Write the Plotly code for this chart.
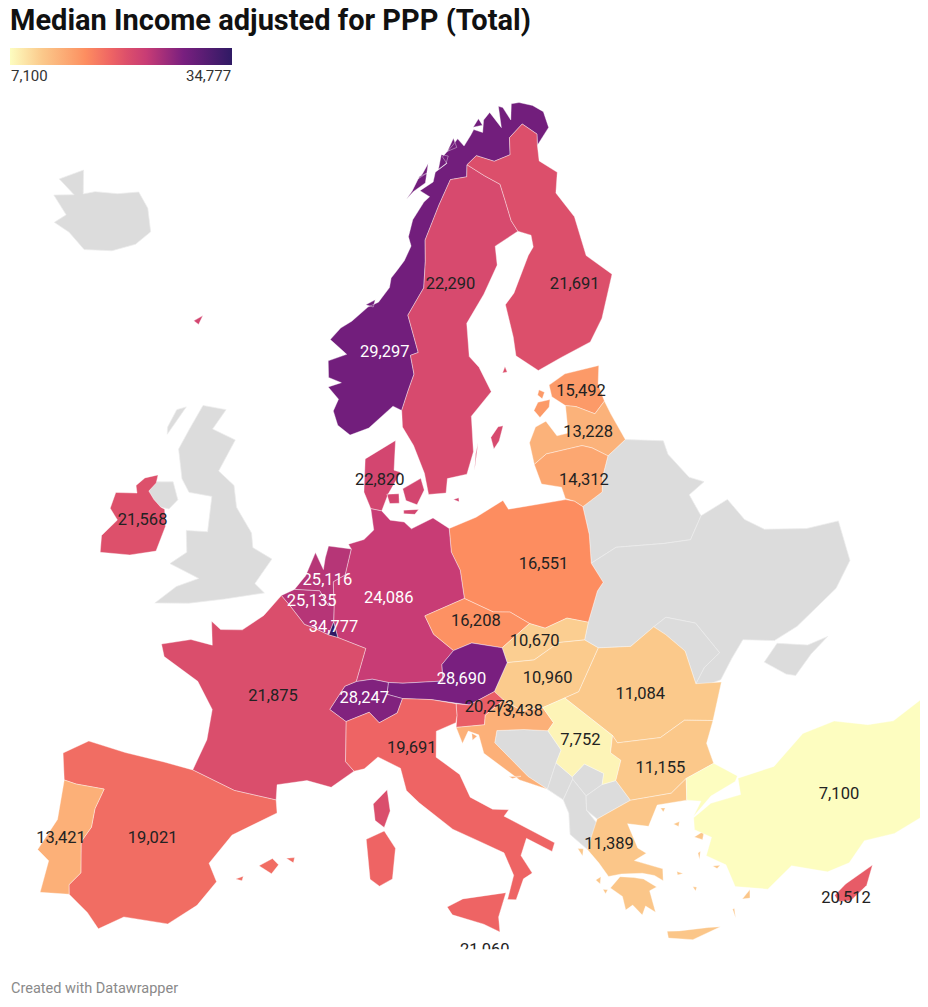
import plotly.graph_objects as go
from plotly.colors import sample_colorscale

# median income, adjusted for PPP
countries = ["NOR", "SWE", "FIN", "EST", "LVA", "LTU", "DNK", "FRO", "IRL", "POL", "DEU", "NLD", "BEL", "LUX",
             "CZE", "SVK", "HUN", "AUT", "CHE", "SVN", "HRV", "ROU", "SRB", "BGR", "GRC", "ITA", "FRA", "ESP",
             "PRT", "TUR", "CYP", "MLT"]
income = [29297, 22290, 21691, 15492, 13228, 14312, 22820, 22820, 21568, 16551, 24086, 25116, 25135, 34777,
          16208, 10670, 10960, 28690, 28247, 20273, 13438, 11084, 7752, 11155, 11389, 19691, 21875, 19021,
          13421, 7100, 20512, 21060]
no_data = ["ISL", "GBR", "BLR", "UKR", "MDA", "BIH", "MNE", "XKX", "ALB", "MKD"]

# label anchors, lon/lat
label_values = [29297, 22290, 21691, 15492, 13228, 14312, 22820, 21568, 16551, 24086, 25116, 25135, 34777, 16208,
                10670, 10960, 28690, 28247, 20273, 13438, 11084, 7752, 11155, 11389, 19691, 21875, 19021, 13421,
                7100, 20512, 21060]
label_lon = [9.95, 16.5, 28, 25.9, 25.6, 24.4, 9.3, -7.65, 20.4, 9.75, 5.6, 4.6, 6.1, 15.4, 19, 19.45, 14.15, 8.1, 15.7,
             17.4, 24.8, 20.8, 25, 21.4, 10.9, 2.5, -3.5, -8.4, 34.1, 32.8, 14.25]
label_lat = [61.45, 64.1, 63, 58.6, 56.85, 54.93, 56.05, 53.3, 51.85, 51.1, 51.85, 50.9, 49.87, 49.85, 48.7, 47.05, 47.48,
             46.88, 46.2, 45.87, 45.6, 44.25, 42.35, 39.65, 44.7, 46.8, 40.2, 39.45, 39, 34.75, 35.9]
light_labels = [29297, 25116, 25135, 34777, 24086, 28690, 28247]

# rough country outlines, lon/lat rings
outlines = {
    "ISL": [[(-22.7, 63.9), (-21, 63.8), (-19, 63.4), (-16.5, 63.8), (-14.6, 64.4), (-13.6, 65.1), (-14.7, 66),
             (-16.2, 66.5), (-18.2, 66.1), (-20.4, 65.8), (-21.4, 65.5), (-22.5, 66.4), (-24.3, 65.6), (-22.2, 65.3),
             (-24, 64.9), (-22, 64.4)]],
    "IRL": [[(-6.3, 54), (-6, 53.3), (-6.3, 52.2), (-8, 51.8), (-10, 51.6), (-10.2, 52.3), (-9.4, 53.1), (-10.1, 53.5),
             (-10, 54.2), (-8.5, 54.4), (-8.7, 54.7), (-8.2, 55.1), (-7.3, 55.35), (-7.3, 55), (-7.7, 54.6),
             (-7.2, 54.3), (-6.6, 54.05)]],
    "GBR": [[(-5.7, 50.05), (-3.5, 50.3), (-1.2, 50.7), (1.4, 51.15), (0.7, 51.5), (1.7, 52.6), (0.3, 53), (0.1, 53.6),
             (-1.2, 54.6), (-1.6, 55.5), (-2.9, 56), (-2, 57.4), (-3.9, 57.7), (-3.1, 58.6), (-5, 58.6), (-5.7, 57.5),
             (-6.2, 56.6), (-5.5, 55.4), (-4.8, 54.9), (-3.1, 54.9), (-3, 53.4), (-4.5, 53.3), (-4.2, 52.4),
             (-5.2, 51.8), (-3.1, 51.4), (-4.5, 50.9)],
            [(-7.3, 55.05), (-6.1, 55.2), (-5.5, 54.5), (-6, 54.05), (-6.6, 54.05), (-7.2, 54.3), (-7.7, 54.6)],
            [(-7.3, 57.1), (-6.3, 58.4), (-7, 58.2), (-7.4, 57.4)]],
    "NOR": [[(7, 58), (8.5, 58.3), (10.5, 59.2), (11.2, 59), (11.8, 59.8), (12.4, 60.5), (12.2, 61.3), (12.9, 61.4),
             (12.2, 63), (13.9, 64.1), (14.3, 65.2), (14.5, 66.1), (16.4, 67.5), (18.1, 68.5), (20, 68.5), (20.3, 69),
             (21.6, 69.3), (23.5, 68.9), (25.5, 69), (26, 69.7), (28, 70.1), (29.3, 69.5), (28.9, 69.05), (30.9, 69.6),
             (31, 70.3), (30, 70.7), (28.5, 71), (27.5, 71.05), (26.8, 70.4), (26.3, 71), (25.8, 71.1), (25.4, 70.2),
             (24.5, 70.95), (23.5, 70.7), (23, 70.2), (22, 70.4), (21.5, 70.2), (20.4, 69.8), (19.8, 70.15), (19, 69.9),
             (17.6, 69.5), (18, 69.2), (16.5, 68.9), (16.1, 68.5), (14.5, 68.2), (15.5, 67.9), (14.8, 67.7), (13.4, 67),
             (12.8, 66.3), (13, 65.9), (12.2, 65.3), (11.4, 64.9), (10.8, 64.6), (10.6, 64.2), (9.5, 63.6), (8.5, 63.4),
             (7, 62.8), (6, 62.5), (5.1, 62), (6.6, 61.4), (5, 61.1), (5.1, 60.4), (6.2, 60.2), (5.1, 60), (6, 59.5),
             (5.6, 59), (6, 58.4)],
            [(12.9, 67.9), (13.8, 68.2), (15.2, 68.5), (15.5, 68.9), (14.6, 68.8), (13.6, 68.2)],
            [(14.4, 68.7), (15.5, 68.9), (15.8, 69.3), (15, 68.9)],
            [(16.9, 69), (17.5, 69.6), (18.3, 69.5), (17.9, 69.2)],
            [(18.3, 69.7), (19.3, 70.2), (19.5, 69.8)],
            [(22, 70.5), (22.9, 70.8), (23.2, 70.5)],
            [(8.3, 63.5), (9.2, 63.7), (9, 63.4)]],
    "SWE": [[(11.2, 59), (11.2, 58.3), (12, 57.5), (12.7, 56.3), (12.9, 55.4), (14.2, 55.4), (14.4, 56), (15.9, 56.1),
             (16.6, 57), (16.8, 58.5), (18.7, 59.4), (18, 60.5), (17.3, 61), (17.5, 62.4), (19.5, 63.5), (21.3, 64.6),
             (21.5, 65.4), (24.1, 65.8), (23.7, 66.3), (23.6, 67.2), (23.5, 67.9), (22, 68.4), (20.3, 69), (20, 68.5),
             (18.1, 68.5), (16.4, 67.5), (14.5, 66.1), (14.3, 65.2), (13.9, 64.1), (12.2, 63), (12.9, 61.4),
             (12.2, 61.3), (12.4, 60.5), (11.8, 59.8)],
            [(18.2, 57), (18.1, 57.5), (18.8, 57.9), (19.2, 57.9), (18.7, 57.3)],
            [(16.5, 56.2), (17.05, 57.35), (16.75, 56.9)]],
    "FIN": [[(24.1, 65.8), (25.3, 65.5), (25.2, 65), (24.5, 64.7), (22.3, 63.3), (21.3, 62.9), (21.4, 61.5), (21.3, 60.7),
             (22.9, 59.9), (25, 60.2), (27.8, 60.5), (29.4, 61.3), (31.6, 62.9), (29.9, 64), (30.1, 65.7), (29.1, 66.9),
             (30, 67.7), (28.5, 68.4), (28.9, 69.05), (29.3, 69.5), (28, 70.1), (26, 69.7), (25.5, 69), (23.5, 68.9),
             (21.6, 69.3), (20.3, 69), (22, 68.4), (23.5, 67.9), (23.6, 67.2), (23.7, 66.3)],
            [(19.9, 60.1), (20.3, 60.1), (20.2, 60.35)]],
    "EST": [[(23.5, 59.2), (25, 59.5), (27.9, 59.45), (27.4, 58.7), (27.5, 57.95), (26.5, 57.55), (25.2, 58.05),
             (24.4, 58.2), (23.5, 58.7)],
            [(21.85, 58.3), (22.3, 58.6), (23.3, 58.6), (23.1, 58.3), (22.2, 57.95)],
            [(22.4, 58.9), (22.6, 59.1), (23, 58.95), (22.7, 58.7)]],
    "LVA": [[(21.05, 56.07), (21, 57), (21.7, 57.6), (22.6, 57.75), (23.2, 57.05), (24.1, 57.05), (24.4, 58.2),
             (25.2, 58.05), (26.5, 57.55), (27.5, 57.95), (27.7, 57.35), (28.2, 56.15), (26.6, 55.7), (25.6, 56.2),
             (24.9, 56.4), (22.1, 56.4)]],
    "LTU": [[(21.05, 56.07), (22.1, 56.4), (24.9, 56.4), (25.6, 56.2), (26.6, 55.7), (25.8, 54.9), (25.5, 54.3),
             (23.9, 53.9), (23.4, 54.2), (22.8, 54.4), (22.7, 54.9), (21.3, 55.2)]],
    "BLR": [[(28.2, 56.15), (30.9, 55.6), (30.9, 55), (31.8, 53.8), (32.7, 53.4), (31.4, 53.1), (31.7, 52.1), (30.5, 51.3),
             (28.7, 51.5), (25.5, 51.9), (23.6, 51.5), (23.9, 52.7), (23.9, 53.9), (25.5, 54.3), (25.8, 54.9),
             (26.6, 55.7)]],
    "UKR": [[(23.6, 51.5), (25.5, 51.9), (28.7, 51.5), (30.5, 51.3), (31.7, 52.1), (33.8, 52.35), (34.4, 51.3),
             (35.4, 50.6), (38, 49.9), (40.1, 49.6), (39.7, 47.9), (38.2, 47.1), (35.1, 46.3), (33.5, 46.1), (31.7, 46.6),
             (30.7, 46), (29.7, 45.3), (28.7, 45.25), (28.2, 45.45), (28.95, 46), (30.1, 46.4), (29.2, 47.9), (27.5, 48.5),
             (26.6, 48.25), (24.9, 47.7), (22.9, 47.95), (22.15, 48.4), (22.6, 49.1), (23.6, 50.3), (24.1, 50.6)],
            [(32.5, 45.4), (33.6, 45.95), (35.3, 45.4), (36.6, 45.4), (35.3, 45), (34, 44.4), (33.5, 44.6)]],
    "MDA": [[(28.2, 45.45), (28.1, 46.9), (27.2, 47.8), (26.6, 48.25), (27.5, 48.5), (29.2, 47.9), (30.1, 46.4), (28.95, 46)]],
    "POL": [[(14.2, 53.9), (16.2, 54.25), (18.3, 54.8), (18.6, 54.4), (19.7, 54.4), (22.8, 54.35), (23.4, 54.2), (23.9, 53.9),
             (23.9, 52.7), (23.6, 51.5), (24.1, 50.6), (23.6, 50.3), (22.6, 49.1), (21.3, 49.45), (19.8, 49.2), (18.85, 49.5),
             (17.7, 50.1), (16.6, 50.2), (14.8, 50.9), (14.7, 52.1), (14.2, 52.9)]],
    "DEU": [[(8.6, 54.9), (9.4, 54.8), (10, 54.4), (11, 54.3), (11.5, 54), (13.1, 54.4), (14.2, 53.9), (14.2, 52.9), (14.7, 52.1),
             (14.8, 50.9), (12.1, 50.3), (12.6, 49.5), (13.8, 48.75), (13, 48.2), (13, 47.5), (10.5, 47.5), (9.6, 47.55),
             (8.6, 47.7), (7.6, 47.6), (8.2, 49), (6.4, 49.45), (6.1, 50.1), (6.1, 50.8), (6, 51.8), (6.8, 52.1), (7.2, 53.2),
             (7, 53.4), (8.1, 53.6), (8.8, 54)]],
    "DNK": [[(8.6, 54.9), (8.1, 55.6), (8.2, 57), (10.6, 57.75), (10.4, 56.5), (10.9, 56.4), (9.9, 55.5), (9.4, 54.8)],
            [(9.8, 55.5), (10.7, 55.5), (10.7, 55.1), (10, 55.1)],
            [(11, 55.7), (12.4, 56.1), (12.6, 55.6), (12, 55), (11.2, 55.2)],
            [(11, 54.8), (12.1, 54.8), (11.8, 54.6), (11, 54.65)],
            [(14.7, 55.1), (15.1, 55.15), (15.1, 54.98)]],
    "FRO": [[(-7.3, 62), (-6.6, 62.3), (-6.8, 61.9)]],
    "NLD": [[(3.4, 51.4), (4.1, 52), (4.7, 53), (5.3, 52.3), (5.4, 52.8), (5.6, 53.3), (7.2, 53.2), (6.8, 52.1), (6, 51.8),
             (6.1, 50.8), (5.7, 50.8), (5.1, 51.4), (4.3, 51.4)]],
    "BEL": [[(2.55, 51.1), (3.4, 51.4), (4.3, 51.4), (5.1, 51.4), (5.7, 50.8), (6.1, 50.8), (6.1, 50.1), (5.8, 49.55),
             (4.9, 49.8), (4.2, 49.95), (3.1, 50.75)]],
    "LUX": [[(5.8, 49.55), (6.1, 50.1), (6.4, 49.45)]],
    "FRA": [[(2.55, 51.1), (3.1, 50.75), (4.2, 49.95), (4.9, 49.8), (5.8, 49.55), (6.4, 49.45), (8.2, 49), (7.6, 47.6),
             (6.9, 47.4), (6, 46.4), (7, 45.9), (7, 44.2), (7.5, 43.8), (6.2, 43.1), (4.8, 43.35), (3.1, 43.1), (3.1, 42.45),
             (0.7, 42.7), (-1.8, 43.35), (-1.2, 44.7), (-1.1, 46), (-2.2, 47.1), (-4.5, 47.9), (-4.8, 48.4), (-3, 48.8),
             (-1.6, 48.7), (-1.85, 49.7), (-1.2, 49.4), (0.2, 49.5), (1.5, 50.2)],
            [(8.6, 42.4), (9.4, 43), (9.55, 42.1), (9.2, 41.4), (8.7, 41.7)]],
    "CHE": [[(6, 46.4), (6.9, 47.4), (7.6, 47.6), (8.6, 47.7), (9.6, 47.55), (9.5, 47.05), (10.45, 46.85), (10.1, 46.25),
             (9, 45.85), (8.4, 46.3), (7, 45.9)]],
    "AUT": [[(9.6, 47.55), (10.5, 47.5), (13, 47.5), (13, 48.2), (13.8, 48.75), (15, 49), (16.9, 48.65), (17.1, 48),
             (16.1, 46.85), (14.5, 46.4), (12.2, 46.75), (10.45, 46.85), (9.5, 47.05)]],
    "CZE": [[(12.1, 50.3), (14.8, 50.9), (16.6, 50.2), (17.7, 50.1), (18.85, 49.5), (16.9, 48.65), (15, 49), (13.8, 48.75),
             (12.6, 49.5)]],
    "SVK": [[(16.9, 48.65), (18.85, 49.5), (19.8, 49.2), (21.3, 49.45), (22.6, 49.1), (22.15, 48.4), (20.5, 48.5),
             (18.8, 47.95), (17.1, 48)]],
    "HUN": [[(17.1, 48), (18.8, 47.95), (20.5, 48.5), (22.15, 48.4), (22.9, 47.95), (21.2, 46.3), (20.3, 46.15), (18.9, 45.9),
             (17.6, 45.9), (16.6, 46.45), (16.1, 46.85)]],
    "SVN": [[(13.7, 46.5), (14.5, 46.4), (16.1, 46.85), (16.6, 46.45), (15.4, 45.9), (15.3, 45.5), (13.6, 45.5), (13.7, 46)]],
    "HRV": [[(16.6, 46.45), (17.6, 45.9), (18.9, 45.9), (19.4, 45.2), (19, 44.9), (17.6, 45.1), (16, 45.2), (15.8, 44.7),
             (17.5, 43.1), (18.5, 42.45), (17, 43), (15.1, 44.3), (14.9, 45.1), (14.3, 45.3), (13.9, 44.8), (13.6, 45.5),
             (15.3, 45.5), (15.4, 45.9)],
            [(14.5, 45.2), (14.8, 45.05), (14.5, 44.9)],
            [(16.4, 43.2), (17.1, 43.15), (16.6, 43.1)]],
    "BIH": [[(16, 45.2), (17.6, 45.1), (19, 44.9), (19.6, 44), (19.2, 43.5), (18.5, 42.45), (17.5, 43.1), (15.8, 44.7)]],
    "SRB": [[(18.9, 45.9), (20.3, 46.15), (21.5, 45.2), (22.7, 44.2), (22.4, 43.5), (22.9, 43.1), (22.4, 42.3), (21.6, 42.25),
             (21.8, 42.7), (20.8, 43.25), (20, 42.8), (19.2, 43.5), (19.6, 44), (19, 44.9), (19.4, 45.2)]],
    "MNE": [[(18.5, 42.45), (19.2, 43.5), (20, 42.8), (20, 42.7), (19.3, 41.9)]],
    "XKX": [[(20, 42.7), (20, 42.8), (20.8, 43.25), (21.8, 42.7), (21.6, 42.25), (20.6, 41.9), (20.3, 42.3)]],
    "ALB": [[(19.3, 41.9), (20, 42.7), (20.3, 42.3), (20.6, 41.9), (20.5, 41.3), (21, 40.6), (20.2, 39.65), (19.4, 40.4),
             (19.5, 41.3)]],
    "MKD": [[(20.6, 41.9), (21.6, 42.25), (22.4, 42.3), (23, 41.35), (21, 40.85), (20.5, 41.3)]],
    "ROU": [[(20.3, 46.15), (21.2, 46.3), (22.9, 47.95), (24.9, 47.7), (26.6, 48.25), (27.2, 47.8), (28.1, 46.9), (28.2, 45.45),
             (29.7, 45.2), (28.6, 43.75), (27, 44.1), (25.4, 43.65), (22.9, 43.85), (22.7, 44.2), (21.5, 45.2)]],
    "BGR": [[(22.7, 44.2), (22.9, 43.85), (25.4, 43.65), (27, 44.1), (28.6, 43.75), (27.9, 42.9), (28, 42), (26.3, 41.7),
             (25.3, 41.25), (23, 41.35), (22.4, 42.3), (22.9, 43.1), (22.4, 43.5)]],
    "GRC": [[(20.2, 39.65), (21, 40.85), (23, 41.35), (25.3, 41.25), (26.3, 41.7), (26.05, 40.8), (24.4, 40.9), (23.7, 40.1),
             (22.6, 40.4), (22.9, 39.3), (23.3, 39), (22.6, 38.8), (24, 38.2), (23.9, 37.7), (23.5, 38), (22.9, 38.2),
             (21.8, 38.35), (21.1, 38.35), (20.7, 39)],
            [(22.9, 37.95), (23.5, 37.5), (23.1, 37.4), (23.2, 36.45), (22.75, 36.8), (22.5, 36.45), (22.1, 36.95), (21.7, 36.8),
             (21.65, 37.4), (21.1, 37.85), (21.7, 38.25), (22.4, 38.1)],
            [(23.6, 35.55), (24.2, 35.45), (25.7, 35.3), (26.3, 35.2), (24.8, 34.95), (23.6, 35.25)],
            [(27.7, 36.1), (28.2, 36.4), (28.1, 36.05)],
            [(26, 39.2), (26.6, 39.35), (26.4, 39)],
            [(26, 38.5), (26.15, 38.55), (26, 38.2)],
            [(19.7, 39.75), (20, 39.7), (19.9, 39.4)],
            [(20.4, 38.3), (20.7, 38.4), (20.6, 38.1)],
            [(20.7, 37.85), (20.95, 37.8), (20.8, 37.65)],
            [(25.05, 39.95), (25.4, 40), (25.3, 39.8)],
            [(24.55, 40.75), (24.8, 40.7), (24.65, 40.55)],
            [(26.6, 37.8), (27, 37.75), (26.8, 37.65)],
            [(25.35, 37.15), (25.55, 37.1), (25.45, 36.95)],
            [(24.7, 37.95), (25, 37.8), (24.7, 37.8)],
            [(27.1, 35.8), (27.2, 35.8), (27.15, 35.4)]],
    "TUR": [[(26.05, 40.8), (26.3, 41.7), (28, 42), (29.1, 41.2), (28.9, 41), (27.4, 40.7), (26.2, 40.05), (26.8, 40.6)],
            [(29.1, 41.1), (31.2, 41.1), (33.3, 42), (35.2, 42), (36.9, 41.3), (38.3, 41), (41.5, 41.5), (43.5, 41.1), (44.8, 39.7),
             (44.5, 37.5), (42.4, 37.2), (38, 36.8), (36.2, 36.6), (34.6, 36.8), (33.5, 36.15), (32.3, 36.1), (30.6, 36.85),
             (29.1, 36.2), (27.5, 36.7), (27.3, 37.7), (26.4, 38.3), (26.9, 39), (26.1, 39.5), (26.2, 40), (27.3, 40.4), (29, 40.4)]],
    "CYP": [[(32.3, 35.05), (33, 35.35), (34.6, 35.7), (34, 34.98), (33, 34.6), (32.4, 34.75)]],
    "ITA": [[(7, 45.9), (8.4, 46.3), (9, 45.85), (10.1, 46.25), (10.45, 46.85), (12.2, 46.75), (13.7, 46.5), (13.7, 46), (13.6, 45.7),
             (12.4, 45.4), (12.3, 44.3), (13.6, 43.5), (14.1, 42.5), (15.3, 41.9), (16.2, 41.8), (15.9, 41.55), (18.5, 40.15),
             (18.3, 39.8), (17, 40.5), (16.6, 39.8), (17.1, 39), (16.6, 38.8), (16.1, 37.95), (15.65, 38), (16.1, 39), (15.7, 40),
             (14.4, 40.6), (13, 41.2), (11.2, 42.4), (10.5, 42.95), (10.2, 43.9), (8.9, 44.4), (8.1, 43.9), (7.5, 43.8), (7, 44.2)],
            [(12.45, 37.9), (13.3, 38.2), (15.6, 38.3), (15.1, 37.3), (15.1, 36.65), (14.3, 37.05), (12.7, 37.55)],
            [(8.2, 40.9), (9.2, 41.25), (9.8, 40.5), (9.6, 39.2), (8.9, 38.9), (8.4, 39.2)]],
    "MLT": [[(14.35, 35.95), (14.55, 35.85), (14.4, 35.8)]],
    "ESP": [[(-1.8, 43.35), (0.7, 42.7), (3.1, 42.45), (3.2, 41.9), (0.8, 40.8), (-0.3, 39.5), (0.2, 38.75), (-0.7, 37.65),
             (-2.1, 36.7), (-4.4, 36.7), (-5.6, 36), (-6.3, 36.6), (-7.4, 37.2), (-7.5, 37.6), (-7, 38.2), (-7.3, 39.5), (-6.9, 40.2),
             (-6.9, 41), (-6.6, 41.9), (-8.2, 41.85), (-8.9, 41.9), (-9.3, 43), (-8, 43.75), (-5.8, 43.6), (-3.5, 43.5)],
            [(2.4, 39.6), (3.1, 39.95), (3.45, 39.7), (3.1, 39.3)],
            [(3.85, 40), (4.3, 40.05), (4.25, 39.82)],
            [(1.2, 38.95), (1.6, 39.1), (1.55, 38.9)]],
    "PRT": [[(-8.9, 41.9), (-8.2, 41.85), (-6.6, 41.9), (-6.9, 41), (-6.9, 40.2), (-7.3, 39.5), (-7, 38.2), (-7.5, 37.6),
             (-7.4, 37.2), (-8.9, 37), (-8.8, 38.4), (-9.5, 38.75), (-8.8, 40.2)]],
}

income_colors = [[0, "#fdfdc0"], [0.144, "#fbc98b"], [0.303, "#fc9a68"], [0.341, "#fd8d60"], [0.455, "#ee6464"],
                 [0.527, "#dc4f6b"], [0.614, "#c83c75"], [0.78, "#791f7f"], [1, "#2f1a64"]]
zmin, zmax = 7100, 34777
no_data_color = "#dcdcdc"

# the page body has an 8px margin, so figure pixels are picture pixels minus 8
W, H = 920, 999


def px(x):
    return (x - 8) / W


def py(y):
    return 1 - (y - 8) / H


def ring_lists(rings):
    # d3-geo wants clockwise rings, otherwise the fill inverts
    lons, lats = [], []
    for ring in rings:
        area = sum(a[0] * b[1] - b[0] * a[1] for a, b in zip(ring, ring[1:] + ring[:1]))
        ordered = ring[::-1] if area > 0 else ring
        lons += [p[0] for p in ordered] + [ordered[0][0], None]
        lats += [p[1] for p in ordered] + [ordered[0][1], None]
    return lons[:-1], lats[:-1]


def add_country(fig, code, color, line_color):
    lons, lats = ring_lists(outlines[code])
    fig.add_trace(go.Scattergeo(
        lon=lons, lat=lats, mode="lines", fill="toself", fillcolor=color,
        line=dict(color=line_color, width=0.7), name=code, showlegend=False, hoverinfo="name",
    ))


fig = go.Figure()

for code in no_data:
    add_country(fig, code, no_data_color, "#ececec")

for code, value in zip(countries, income):
    color = sample_colorscale(income_colors, (value - zmin) / (zmax - zmin))[0]
    add_country(fig, code, color, "rgba(255,255,255,0.55)")

# labels; the hidden markers carry the colour bar
fig.add_trace(go.Scattergeo(
    lon=label_lon, lat=label_lat, text=[f"{v:,}" for v in label_values], mode="markers+text",
    textposition="middle center",
    textfont=dict(family="Roboto", size=16.5,
                  color=["#ffffff" if v in light_labels else "#222222" for v in label_values]),
    marker=dict(size=1, opacity=0, color=label_values, cmin=zmin, cmax=zmax, colorscale=income_colors, showscale=True,
                colorbar=dict(orientation="h", x=px(10), xanchor="left", y=py(48), yanchor="top",
                              thickness=17, thicknessmode="pixels", len=222, lenmode="pixels",
                              showticklabels=False, ticks="", outlinewidth=0, xpad=0, ypad=0)),
    showlegend=False,
))

fig.update_geos(
    projection=dict(type="azimuthal equal area", rotation=dict(lon=8, lat=58), scale=1.81),
    center=dict(lon=12.45, lat=54.3),
    lonaxis=dict(range=[-30, 43.6], showgrid=False), lataxis=dict(range=[20, 85], showgrid=False),
    showland=False, showocean=False, showlakes=False, showrivers=False, showcountries=False,
    showcoastlines=False, showframe=False, showsubunits=False, bgcolor="white",
    domain=dict(x=[0, 1], y=[py(956), py(90)]),
)

fig.update_layout(
    width=W, height=H, margin=dict(l=0, r=0, t=0, b=0), paper_bgcolor="white",
    font=dict(family="Roboto"),
    annotations=[
        dict(text="<b>Median Income adjusted for PPP (Total)</b>", x=px(8), y=py(20), xref="paper", yref="paper",
             xanchor="left", yanchor="middle", showarrow=False, font=dict(size=29, color="#111111")),
        dict(text="7,100", x=px(9), y=py(76), xref="paper", yref="paper", xanchor="left", yanchor="middle",
             showarrow=False, font=dict(size=15, color="#333333")),
        dict(text="34,777", x=px(233), y=py(76), xref="paper", yref="paper", xanchor="right", yanchor="middle",
             showarrow=False, font=dict(size=15, color="#333333")),
        dict(text="Created with Datawrapper", x=px(9), y=py(988), xref="paper", yref="paper", xanchor="left",
             yanchor="middle", showarrow=False, font=dict(size=14.5, color="#8a8a8a")),
    ],
)

fig.write_html("out.html")
